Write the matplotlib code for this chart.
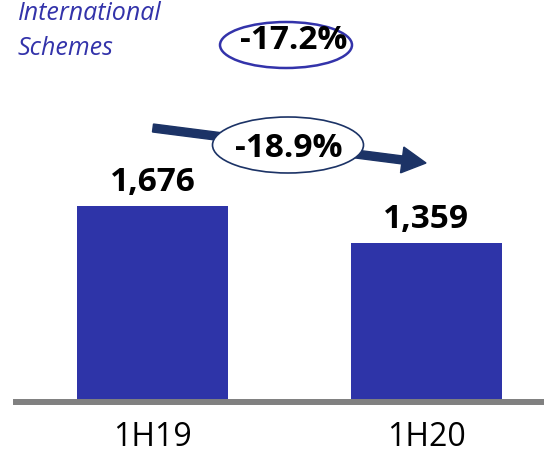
import matplotlib
matplotlib.use("Agg")
import matplotlib.pyplot as plt
from matplotlib.patches import Ellipse, FancyArrow
from matplotlib.transforms import IdentityTransform

plt.rcParams["font.family"] = ["Open Sans", "DejaVu Sans"]

periods = ["1H19", "1H20"]
values = [1676, 1359]
title = "International\nSchemes"
yoy_change = "-17.2%"
bar_change = "-18.9%"

W, H = 544, 453
bar_color = "#2E34A8"
navy = "#1C3366"
title_color = "#3333AA"

fig = plt.figure(figsize=(W / 100, H / 100), dpi=100)
ax = fig.add_axes([16 / W, 51 / H, 528 / W, 402 / H])

ax.bar(range(len(values)), values, width=0.552, color=bar_color, zorder=1)
ax.set_xlim(-0.499, 1.431)
ax.set_ylim(0, 3433)

for side in ["top", "right", "left"]:
    ax.spines[side].set_visible(False)
ax.spines["bottom"].set_color("#808080")
ax.spines["bottom"].set_linewidth(4.3)
ax.set_yticks([])
ax.set_xticks(range(len(periods)))
ax.set_xticklabels(periods, fontsize=23)
ax.tick_params(axis="x", length=0, pad=14)

for i, v in enumerate(values):
    ax.annotate(f"{v:,}", (i, v), xytext=(0, 15), textcoords="offset pixels",
                ha="center", va="baseline", fontsize=24, fontweight="bold")


def top(y):
    # pixel row measured from the top edge -> display y
    return H - y


px = IdentityTransform()

fig.text(18, top(55), title, transform=px, fontsize=18, style="italic",
         color=title_color, ha="left", va="baseline", linespacing=1.5)

# overall change badge
fig.add_artist(Ellipse((286, top(45)), 132, 46, transform=px, facecolor="white",
                       edgecolor=title_color, linewidth=1.8, zorder=5))
fig.text(294, top(49), yoy_change, transform=px, fontsize=24, fontweight="bold",
         ha="center", va="baseline", zorder=6)

# trend arrow between the bars
x0, y0, x1, y1 = 153, top(128), 426, top(163)
fig.add_artist(FancyArrow(x0, y0, x1 - x0, y1 - y0, width=8, head_width=26,
                          head_length=24, length_includes_head=True,
                          transform=px, color=navy, zorder=4))
fig.add_artist(Ellipse((288, top(145)), 151, 56, transform=px, facecolor="white",
                       edgecolor=navy, linewidth=1.2, zorder=5))
fig.text(289, top(157), bar_change, transform=px, fontsize=24, fontweight="bold",
         ha="center", va="baseline", zorder=6)

fig.savefig("out.png", dpi=100)
